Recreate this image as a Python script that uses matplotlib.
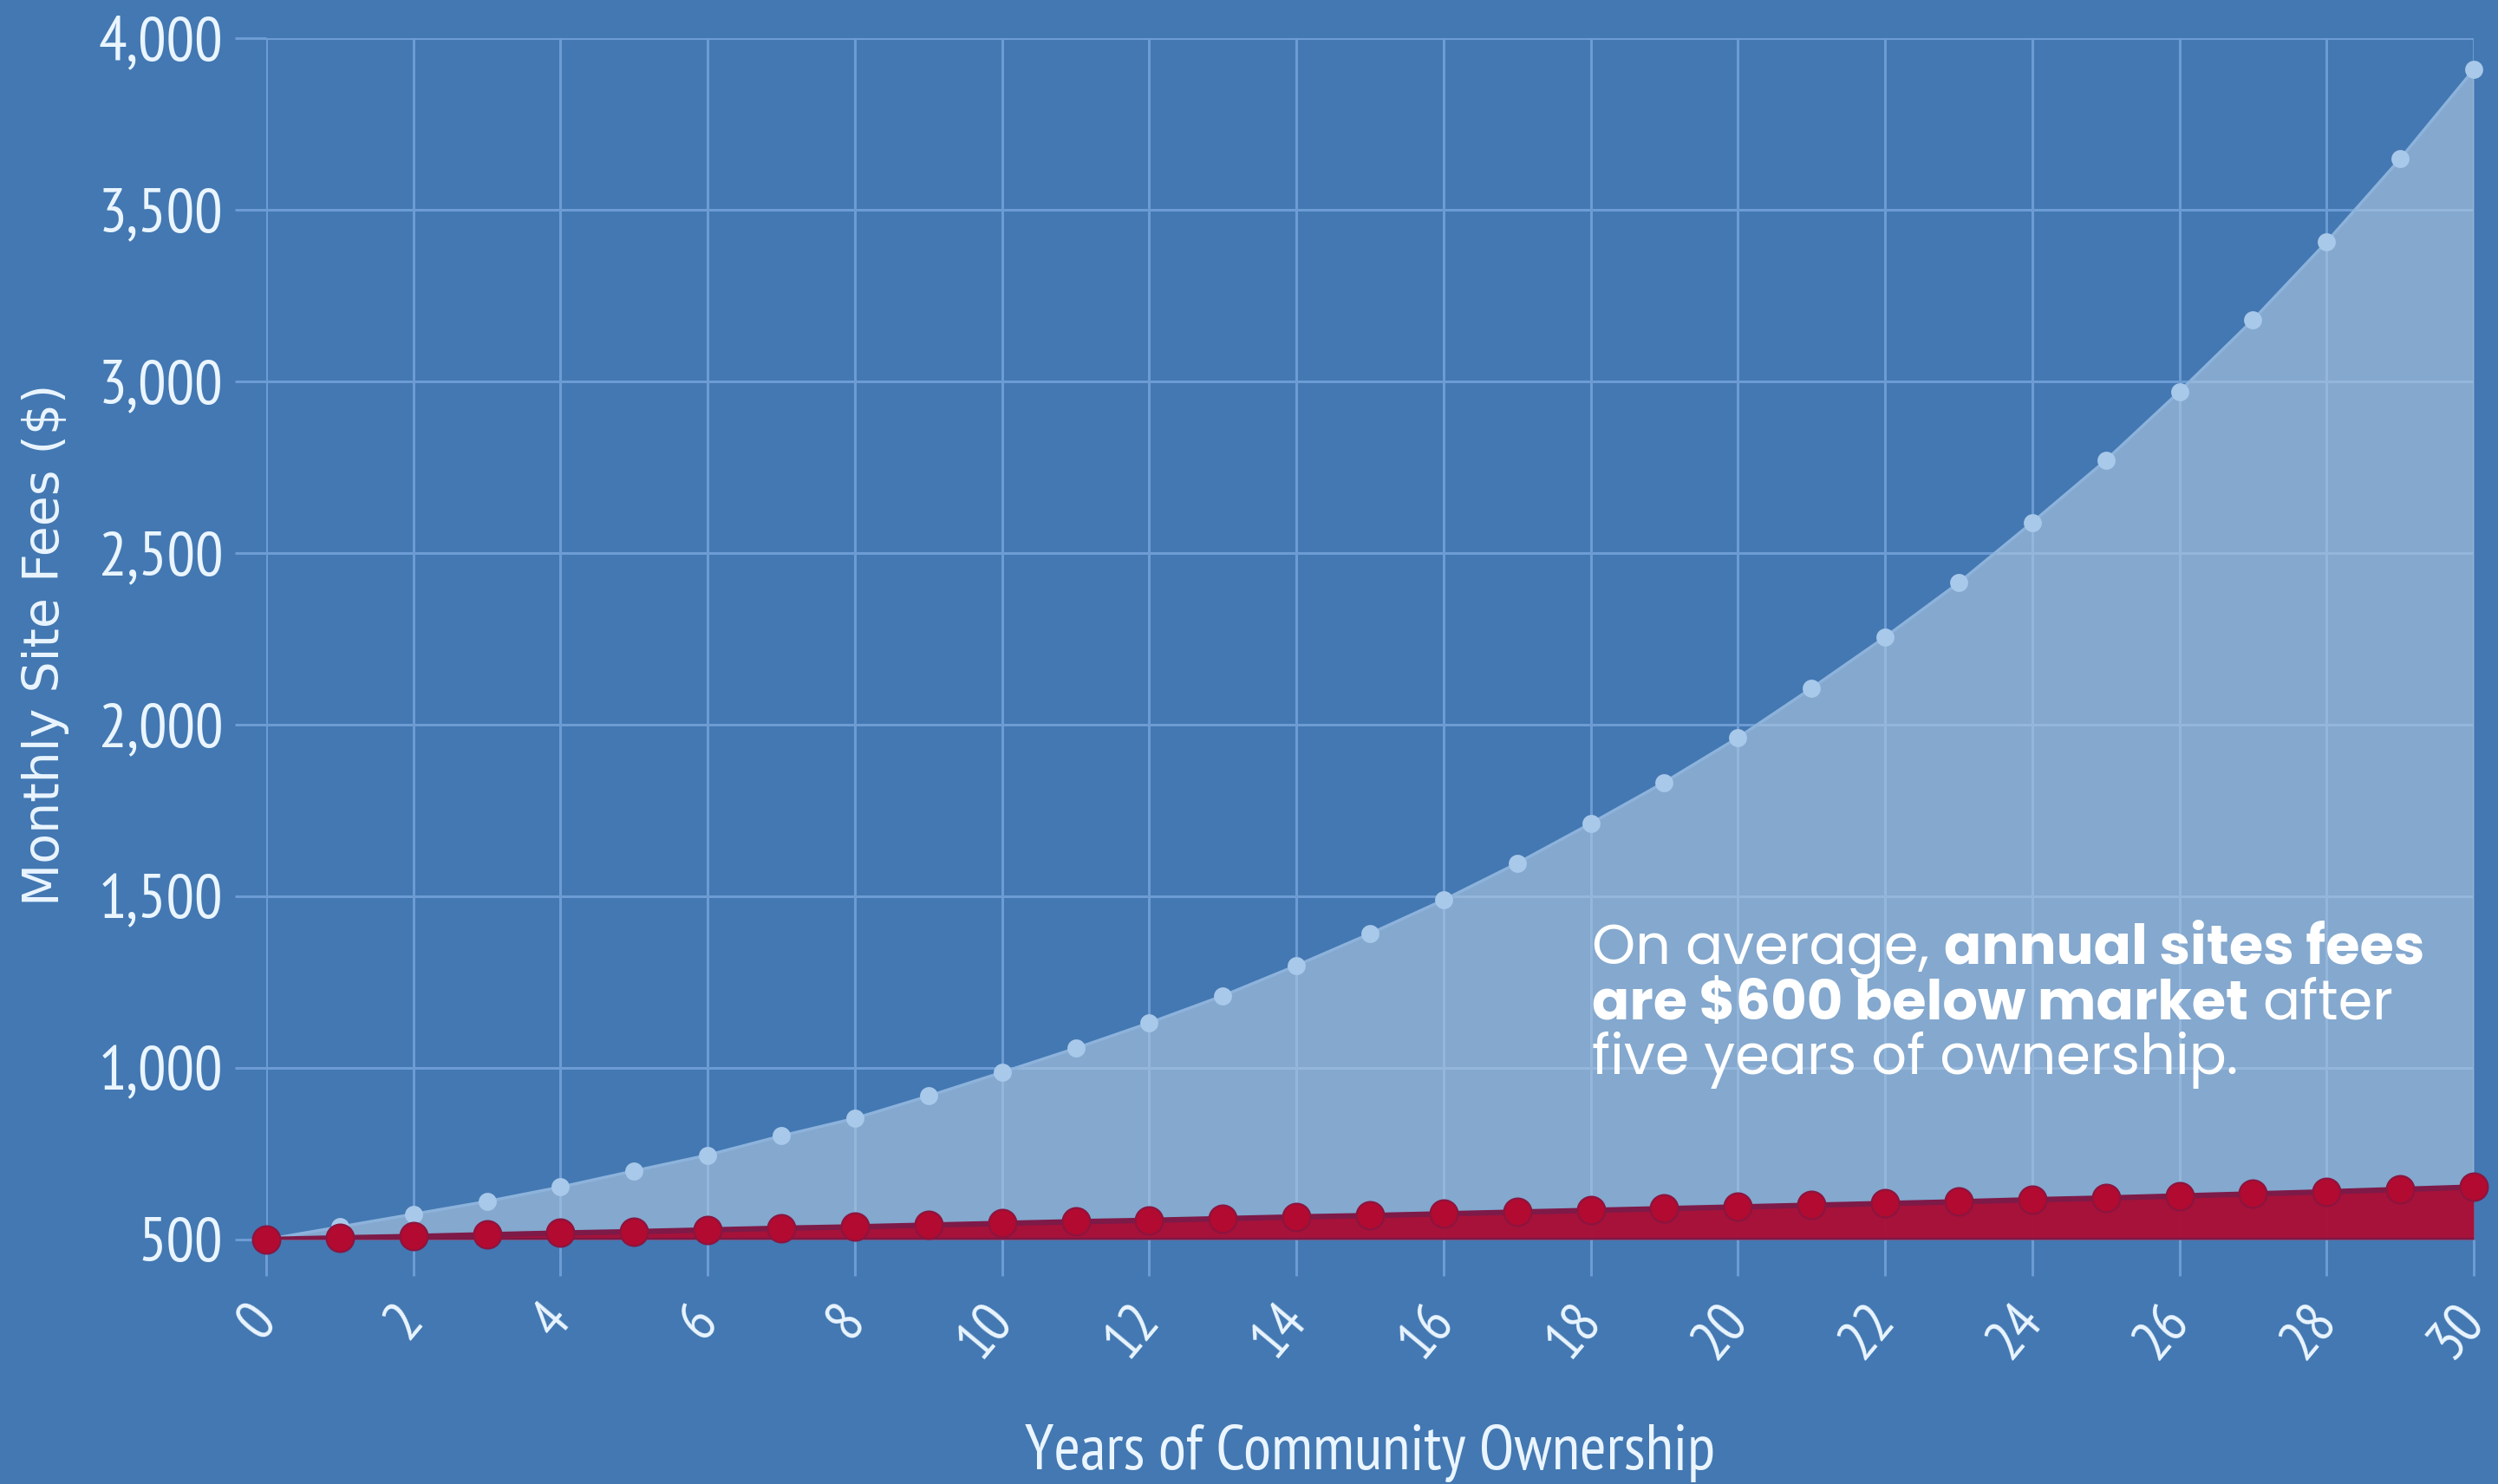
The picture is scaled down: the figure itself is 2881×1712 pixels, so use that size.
import matplotlib
matplotlib.use("Agg")
import matplotlib.pyplot as plt

years = list(range(0, 31))
market_fees = [500, 537, 574, 611, 653, 700, 746, 802, 853, 918, 987, 1057, 1131, 1210,
               1298, 1391, 1489, 1596, 1712, 1832, 1962, 2106, 2255, 2413, 2589, 2770,
               2970, 3179, 3406, 3648, 3908]
community_fees = [500, 505, 509, 514, 519, 523, 528, 533, 537, 542, 547, 552, 556, 561,
                  566, 570, 575, 580, 585, 590, 595, 600, 605, 610, 616, 621, 627, 633,
                  639, 646, 653]
x_ticks = list(range(0, 31, 2))
y_ticks = [500, 1000, 1500, 2000, 2500, 3000, 3500, 4000]
y_tick_labels = ["500", "1,000", "1,500", "2,000", "2,500", "3,000", "3,500", "4,000"]

narrow_fam = ["PT Sans Narrow", "Archivo Narrow", "IBM Plex Sans Condensed",
              "Liberation Sans Narrow", "DejaVu Sans"]
label_fam = ["DejaVu Sans"]
ann_fam = ["Poppins", "Montserrat", "Lato", "DejaVu Sans"]

BG = "#4378b2"
GRID = "#6c9cd3"
TXT = "#eaf5ff"

W, H = 2881, 1712
fig = plt.figure(figsize=(W / 100, H / 100), dpi=100, facecolor=BG)
ax = fig.add_axes([307 / W, 1 - 1430 / H, (2853 - 307) / W, (1430 - 44) / H])
ax.set_facecolor(BG)

ax.set_xlim(0, 30)
ax.set_ylim(500, 4000)

ax.set_axisbelow(True)
ax.grid(True, color=GRID, linewidth=2.2)
for s in ax.spines.values():
    s.set_visible(False)

# market (light) area
ax.fill_between(years, 500, market_fees, color="#b0c9e2", alpha=0.6, linewidth=0, zorder=2)
ax.plot(years, market_fees, color="#8db3dc", linewidth=2.5, zorder=3)
ax.plot(years, market_fees, linestyle="none", marker="o", markersize=15,
        markerfacecolor="#a9c9ea", markeredgewidth=0, zorder=4, clip_on=False)

# community (red) area
ax.fill_between(years, 500, community_fees, color="#a80a32", alpha=0.95, linewidth=0, zorder=5)
ax.plot(years, community_fees, color="#7d1a48", linewidth=4.5, zorder=6)
ax.plot([0, 30], [500, 500], color="#7a1a48", linewidth=3, zorder=5.5)
ax.plot(years, community_fees, linestyle="none", marker="o", markersize=23,
        markerfacecolor="#b20a30", markeredgecolor="#8a1540", markeredgewidth=1.5,
        zorder=7, clip_on=False)

ax.set_xticks(x_ticks)
ax.set_xticklabels([str(v) for v in x_ticks], rotation=50, ha="right", va="center",
                   rotation_mode="anchor", family=narrow_fam, fontsize=48, color=TXT)
ax.set_yticks(y_ticks)
ax.set_yticklabels(y_tick_labels, family=narrow_fam, fontsize=52, color=TXT)
ax.tick_params(axis="x", length=30, width=2.2, color=GRID, pad=30)
ax.tick_params(axis="y", length=26, width=2.2, color=GRID, pad=10)

ax.set_xlabel("Years of Community Ownership", family=narrow_fam, fontsize=53,
              color=TXT, va="center")
ax.xaxis.set_label_coords(0.5, (1430 - 1676) / 1386)
ax.set_ylabel("Monthly Site Fees ($)", family=label_fam, fontsize=41, color=TXT)
ax.yaxis.set_label_coords((52 - 307) / 2546, 0.495)
ax.yaxis.label.set_va("center")

# annotation with mixed weights
fig.canvas.draw()
renderer = fig.canvas.get_renderer()
lines = [
    [("On average,", "normal"), ("annual sites fees", "bold")],
    [("are $600 below market", "bold"), ("after", "normal")],
    [("five years of ownership.", "normal")],
]
baselines = [1112, 1176, 1239]
x0 = 1836


def draw_ann(fs):
    objs = []
    space = fs * 100 / 72 * 0.26
    ends = []
    for segs, base in zip(lines, baselines):
        x = x0
        for txt, wt in segs:
            t = fig.text(x / W, 1 - base / H, txt, family=ann_fam, weight=wt, fontsize=fs,
                         color="white", ha="left", va="baseline", zorder=10)
            objs.append(t)
            bb = t.get_window_extent(renderer)
            x = bb.x1 + space
        ends.append(x - space)
    return objs, ends


fs0 = 40
objs, ends = draw_ann(fs0)
w1 = ends[0] - x0
for o in objs:
    o.remove()
fs = fs0 * 960 / w1
draw_ann(fs)

fig.savefig("out.png", dpi=100, facecolor=BG)
